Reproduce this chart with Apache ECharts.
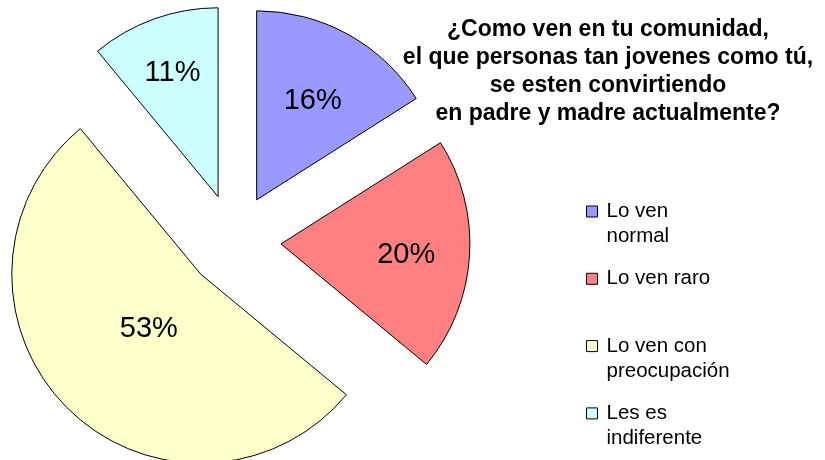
<!DOCTYPE html>
<html>
<head>
<meta charset="utf-8">
<title>Percepción en la comunidad</title>
<script src="https://cdn.jsdelivr.net/npm/echarts@6/dist/echarts.min.js"></script>
<style>
  html, body { margin: 0; padding: 0; background: #ffffff; }
  #chart { width: 825px; height: 460px; }
</style>
</head>
<body>
<div id="chart"></div>
<script>
// Survey answers (percent of respondents)
const categories = ['Lo ven normal', 'Lo ven raro', 'Lo ven con preocupación', 'Les es indiferente'];
const legendLines = ['Lo ven\nnormal', 'Lo ven raro', 'Lo ven con\npreocupación', 'Les es\nindiferente'];
const values = [16, 20, 53, 11];
const titleLines = [
  '¿Como ven en tu comunidad,',
  'el que personas tan jovenes como tú,',
  'se esten convirtiendo',
  'en padre y madre actualmente?'
];

const colors = ['#9999FF', '#FF8080', '#FFFFCC', '#CCFFFF'];
// radial nudge of each percentage label from the default inside spot, px
const labelShift = [19, 28, -24, 37];
const FONT = '"Liberation Sans", Arial, sans-serif';
const LEGEND_LH = 25;
const LEGEND_FS = 20.5;

const total = values.reduce((a, b) => a + b, 0);

const chart = echarts.init(document.getElementById('chart'), null, { renderer: 'canvas' });

const pieData = categories.map((name, i) => ({
  name: name,
  value: values[i],
  selected: true,
  itemStyle: { color: colors[i] }
}));

const legendRich = {
  t: { fontFamily: FONT, fontSize: LEGEND_FS, lineHeight: LEGEND_LH, color: '#000000' }
};

const legendData = categories.map((name, i) => {
  const nLines = legendLines[i].split('\n').length;
  // first text line sits level with the swatch; every entry gets the same height
  const padTop = LEGEND_LH;
  const padBottom = nLines === 1 ? LEGEND_LH : 0;
  return {
    name: name,
    textStyle: {
      fontFamily: FONT,
      fontSize: LEGEND_FS,
      lineHeight: LEGEND_LH,
      color: '#000000',
      padding: [padTop, 0, padBottom, 4],
      rich: legendRich
    }
  };
});

chart.setOption({
  animation: false,
  backgroundColor: '#ffffff',
  title: {
    text: titleLines.join('\n'),
    left: 608,
    top: 16,
    padding: 0,
    textAlign: 'center',
    textStyle: {
      fontFamily: FONT,
      fontSize: 23,
      fontWeight: 'bold',
      color: '#000000',
      lineHeight: 28
    }
  },
  legend: {
    orient: 'vertical',
    left: 586,
    top: 174,
    padding: 0,
    itemGap: 67.3 - 3 * LEGEND_LH,
    itemWidth: 11,
    itemHeight: 11,
    icon: 'rect',
    selectedMode: false,
    data: legendData,
    formatter: function (name) {
      return legendLines[categories.indexOf(name)]
        .split('\n')
        .map(function (line) { return '{t|' + line + '}'; })
        .join('\n');
    },
    itemStyle: { borderColor: '#000000', borderWidth: 1 },
    textStyle: {
      fontFamily: FONT,
      fontSize: LEGEND_FS,
      color: '#000000',
      lineHeight: LEGEND_LH,
      rich: legendRich
    }
  },
  series: [{
    type: 'pie',
    center: [234, 241],
    radius: 189,
    startAngle: 90,
    clockwise: true,
    selectedMode: 'multiple',
    selectedOffset: 47,
    avoidLabelOverlap: false,
    itemStyle: { borderColor: '#000000', borderWidth: 1 },
    select: { itemStyle: { borderColor: '#000000', borderWidth: 1 } },
    emphasis: { disabled: true },
    label: {
      show: true,
      position: 'inside',
      formatter: '{c}%',
      fontFamily: FONT,
      fontSize: 29,
      color: '#000000'
    },
    labelLine: { show: false },
    labelLayout: function (p) {
      const i = p.dataIndex;
      const before = values.slice(0, i).reduce((a, b) => a + b, 0);
      const mid = (before + values[i] / 2) / total * 2 * Math.PI;
      return {
        dx: Math.sin(mid) * labelShift[i],
        dy: -Math.cos(mid) * labelShift[i] + 3
      };
    },
    data: pieData
  }]
});
</script>
</body>
</html>
